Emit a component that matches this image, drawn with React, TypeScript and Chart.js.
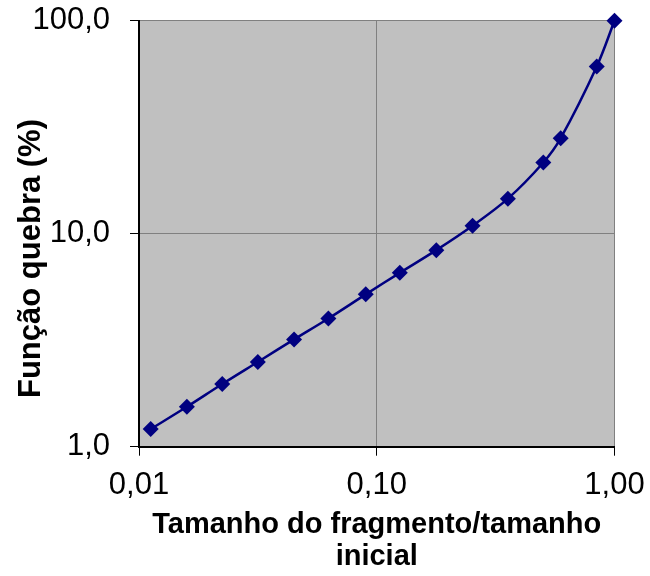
import React, { useEffect, useRef } from "react";
import { Chart, registerables } from "chart.js";

Chart.register(...registerables);

// Data
const sizeRatio: number[] = [0.0112, 0.0159, 0.0224, 0.0316, 0.0449, 0.0626, 0.0899, 0.125, 0.178, 0.253, 0.356, 0.502, 0.594, 0.842, 1.0];
const breakageFunction: number[] = [1.21, 1.54, 1.97, 2.5, 3.19, 4.0, 5.19, 6.55, 8.37, 10.9, 14.6, 21.6, 28.1, 61.0, 100];

const xTickValues: number[] = [0.01, 0.1, 1];
const xTickLabels: string[] = ["0,01", "0,10", "1,00"];
const yTickValues: number[] = [1, 10, 100];
const yTickLabels: string[] = ["1,0", "10,0", "100,0"];

const xTitle: string[] = ["Tamanho do fragmento/tamanho", "inicial"];
const yTitle = "Função quebra (%)";

const FONT = "'Liberation Sans', Arial, Helvetica, sans-serif";

function zeroPadding(scale: any) {
  scale.paddingTop = 0;
  scale.paddingBottom = 0;
  scale.paddingLeft = 0;
  scale.paddingRight = 0;
}

export default function App() {
  const canvasRef = useRef<HTMLCanvasElement | null>(null);

  useEffect(() => {
    document.body.style.margin = "0";
    const canvas = canvasRef.current;
    if (!canvas) return;

    const plotBg = {
      id: "plotBg",
      beforeDraw(chart: any) {
        const { ctx, chartArea } = chart;
        ctx.save();
        ctx.fillStyle = "#C0C0C0";
        ctx.fillRect(chartArea.left, chartArea.top, chartArea.right - chartArea.left, chartArea.bottom - chartArea.top);
        ctx.restore();
      },
    };

    const yTitlePlugin = {
      id: "yTitlePlugin",
      afterDraw(chart: any) {
        const { ctx } = chart;
        ctx.save();
        ctx.translate(31, 258.5);
        ctx.rotate(-Math.PI / 2);
        ctx.font = `bold 31px ${FONT}`;
        ctx.fillStyle = "#000";
        ctx.textAlign = "center";
        ctx.textBaseline = "middle";
        ctx.fillText(yTitle, 0, 0);
        ctx.restore();
      },
    };

    const chart = new Chart(canvas, {
      type: "line",
      data: {
        datasets: [
          {
            data: sizeRatio.map((x, i) => ({ x, y: breakageFunction[i] })),
            borderColor: "#000080",
            backgroundColor: "#000080",
            borderWidth: 2.5,
            pointStyle: "rectRot",
            pointRadius: 8,
            pointHoverRadius: 8,
            pointBorderWidth: 0,
            tension: 0.35,
            fill: false,
            clip: false as any,
          },
        ],
      },
      options: {
        animation: false,
        responsive: false,
        maintainAspectRatio: false,
        events: [],
        layout: { padding: { top: 20.7, right: 35.5, left: 0, bottom: 0 } },
        plugins: {
          legend: { display: false },
          tooltip: { enabled: false },
          title: { display: false },
        },
        scales: {
          x: {
            type: "logarithmic",
            min: 0.01,
            max: 1,
            afterBuildTicks: (scale: any) => {
              scale.ticks = xTickValues.map((v) => ({ value: v }));
            },
            afterFit: (scale: any) => {
              scale.height = 129.3;
              zeroPadding(scale);
            },
            ticks: {
              autoSkip: false,
              maxRotation: 0,
              padding: 11,
              color: "#000",
              font: { family: FONT, size: 31 },
              callback: (value: any) => {
                const idx = xTickValues.findIndex((v) => Math.abs(v - Number(value)) < 1e-9);
                return idx >= 0 ? xTickLabels[idx] : "";
              },
            },
            grid: {
              color: "#808080",
              lineWidth: 1,
              drawTicks: true,
              tickLength: 9,
              tickColor: "#000",
            },
            border: { display: true, color: "#000", width: 2 },
            title: {
              display: true,
              text: xTitle,
              color: "#000",
              font: { family: FONT, size: 29, weight: "bold", lineHeight: 1.086 },
              padding: { top: 0, bottom: 3.5 },
            },
          },
          y: {
            type: "logarithmic",
            min: 1,
            max: 100,
            afterBuildTicks: (scale: any) => {
              scale.ticks = yTickValues.map((v) => ({ value: v }));
            },
            afterFit: (scale: any) => {
              scale.width = 139;
              zeroPadding(scale);
            },
            ticks: {
              autoSkip: false,
              padding: 20,
              color: "#000",
              font: { family: FONT, size: 31 },
              callback: (value: any) => {
                const idx = yTickValues.findIndex((v) => Math.abs(v - Number(value)) < 1e-9);
                return idx >= 0 ? yTickLabels[idx] : "";
              },
            },
            grid: {
              color: "#808080",
              lineWidth: 1,
              drawTicks: true,
              tickLength: 9,
              tickColor: "#000",
            },
            border: { display: true, color: "#000", width: 2 },
            title: { display: false },
          },
        },
      },
      plugins: [plotBg, yTitlePlugin],
    });

    return () => {
      chart.destroy();
    };
  }, []);

  return (
    <div style={{ width: 650, height: 576, background: "#fff" }}>
      <canvas ref={canvasRef} width={650} height={576} style={{ display: "block", width: 650, height: 576 }} />
    </div>
  );
}
